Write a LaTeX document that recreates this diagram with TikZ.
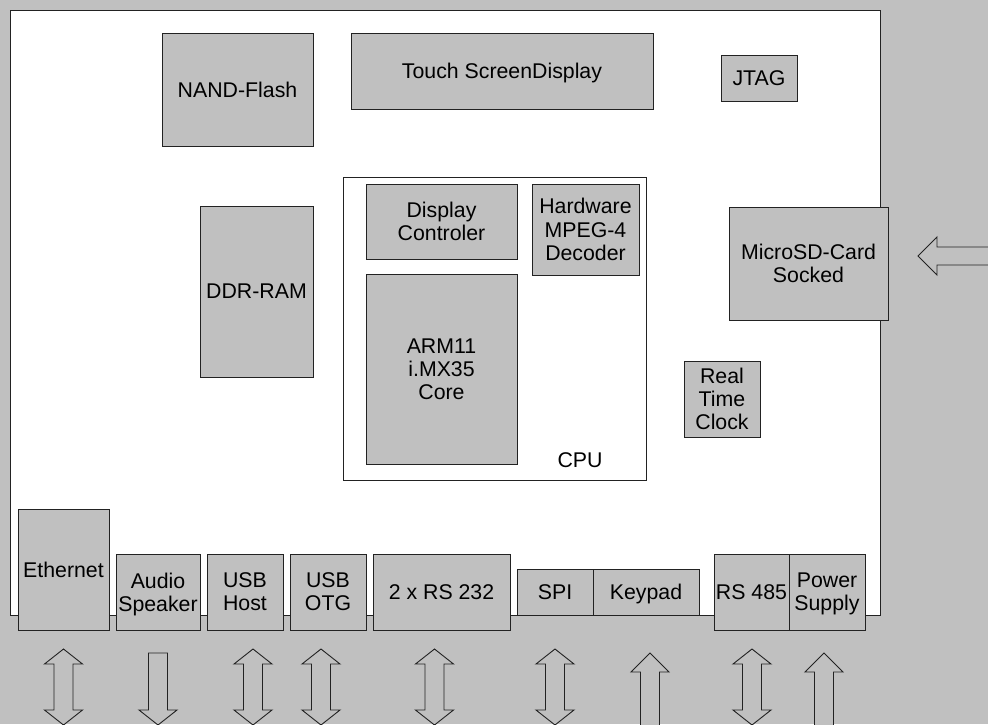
\documentclass[tikz,border=0pt]{standalone}
\usepackage{fontspec}
\setmainfont{Liberation Sans}
\definecolor{bggray}{HTML}{C0C0C0}
\definecolor{edge}{HTML}{222222}
\tikzset{
  box/.style={draw=edge, line width=0.9pt, fill=bggray, inner sep=0pt, align=center,
    font=\fontsize{21.3}{23.2}\selectfont},
  desc/.style={yshift=-2.2pt},
  arr/.style={draw=edge, line width=0.9pt, fill=bggray, line join=miter},
  dblarr/.pic={\draw[arr] (-19,15) -- (0,0) -- (19,15) -- (9.5,15) -- (9.5,61) -- (19,61) -- (0,76) -- (-19,61) -- (-9.5,61) -- (-9.5,15) -- cycle;},
  uparr/.pic={\draw[arr] (-19,19) -- (0,0) -- (19,19) -- (9.5,19) -- (9.5,90) -- (-9.5,90) -- (-9.5,19) -- cycle;},
  downarr/.pic={\draw[arr] (-9.5,0) -- (9.5,0) -- (9.5,57) -- (19,57) -- (0,72) -- (-19,57) -- (-9.5,57) -- cycle;},
  leftarr/.pic={\draw[arr] (0,0) -- (19,-19) -- (19,-9) -- (90,-9) -- (90,9) -- (19,9) -- (19,19) -- cycle;}
}
\begin{document}
\begin{tikzpicture}[x=1pt,y=-1pt]
\useasboundingbox (0,0) rectangle (988,724);
\clip (0,0) rectangle (988,724);
\fill[bggray] (0,0) rectangle (988,724);
% board
\draw[draw=edge, line width=0.9pt, fill=white] (10,10) rectangle (880,615);
% CPU
\node[box, fill=white, minimum width=303, minimum height=303] (cpu) at (494.5,328.5) {};
\node[font=\fontsize{21.3}{23.2}\selectfont, inner sep=0pt] (cpulabel) at (580,460) {CPU};
\node[box, minimum width=151, minimum height=75] (disp) at (441.5,221.5) {Display\\Controler};
\node[box, minimum width=107, minimum height=91] (mpeg) at (585.5,229.5) {Hardware\\MPEG-4\\Decoder};
\node[box, minimum width=151, minimum height=190] (arm) at (441.5,369) {ARM11\\i.MX35\\Core};
% top area
\node[box, minimum width=151, minimum height=113] (nand) at (237.5,89.5) {NAND-Flash};
\node[box, minimum width=302, minimum height=76] (touchbox) at (502,71) {};
\node[font=\fontsize{21.3}{23.2}\selectfont, inner sep=0pt, desc] (touch) at (502,71) {Touch ScreenDisplay};
\node[box, minimum width=76, minimum height=46] (jtag) at (759,78) {JTAG};
\node[box, minimum width=113, minimum height=171] (ddr) at (256.5,291.5) {DDR-RAM};
\node[box, minimum width=76, minimum height=76] (rtc) at (722,399) {Real\\Time\\Clock};
\node[box, minimum width=159, minimum height=113] (sd) at (808.5,263.5) {MicroSD-Card\\Socked};
% bottom connectors
\node[box, minimum width=91, minimum height=121] (eth) at (63.5,569.5) {Ethernet};
\node[box, minimum width=84, minimum height=76] (audiobox) at (158,592) {};
\node[font=\fontsize{21.3}{23.2}\selectfont, inner sep=0pt, align=center, desc] (audio) at (158,592) {Audio\\Speaker};
\node[box, minimum width=76, minimum height=76] (usbh) at (245,592) {USB\\Host};
\node[box, minimum width=76, minimum height=76] (usbo) at (328,592) {USB\\OTG};
\node[box, minimum width=137, minimum height=76] (rs232) at (441.5,592) {2 x RS 232};
\node[box, minimum width=76, minimum height=46] (spi) at (555,592) {SPI};
\node[box, minimum width=106, minimum height=46] (keypadbox) at (646,592) {};
\node[font=\fontsize{21.3}{23.2}\selectfont, inner sep=0pt, desc] (keypad) at (646,592) {Keypad};
\node[box, minimum width=75, minimum height=76] (rs485) at (751.5,592) {RS 485};
\node[box, minimum width=76, minimum height=76] (powerbox) at (827,592) {};
\node[font=\fontsize{21.3}{23.2}\selectfont, inner sep=0pt, align=center, desc] (power) at (827,592) {Power\\Supply};
% arrows
\pic at (63.5,649) {dblarr};
\pic at (158,653) {downarr};
\pic at (253,649) {dblarr};
\pic at (321,649) {dblarr};
\pic at (434.5,649) {dblarr};
\pic at (555,649) {dblarr};
\pic at (650,653) {uparr};
\pic at (752,649) {dblarr};
\pic at (824,653) {uparr};
\pic at (918,256) {leftarr};
\end{tikzpicture}
\end{document}
